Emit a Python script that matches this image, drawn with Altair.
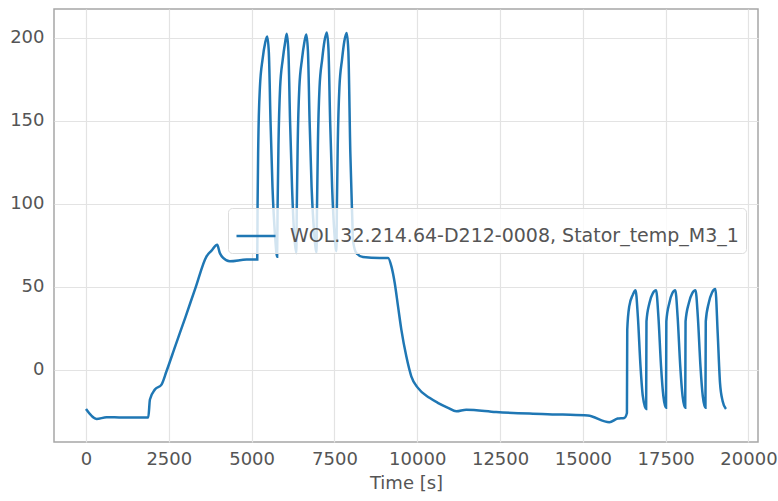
import altair as alt
import pandas as pd

series_name = "WOL.32.214.64-D212-0008, Stator_temp_M3_1"

time_s = [
    0, 320, 620, 1000, 1500, 1880, 1930, 2080, 2280, 2430, 2700, 3000, 3300, 3640, 3790, 3960,
    4040, 4140, 4340, 4850, 5170,
    5180, 5200, 5250, 5330, 5410, 5470, 5520, 5570, 5630, 5710, 5770,
    5785, 5810, 5860, 5940, 6010, 6060, 6110, 6160, 6220, 6290, 6350,
    6365, 6390, 6440, 6520, 6590, 6650, 6700, 6750, 6810, 6890, 6960,
    6975, 7000, 7050, 7130, 7200, 7270, 7320, 7370, 7430, 7500, 7560,
    7575, 7600, 7650, 7730, 7800, 7870, 7920, 7980, 8040, 8060, 8160, 8360,
    8870, 9120, 9220, 9320, 9420, 9520, 9670, 9820, 10020, 10370, 10620, 10930,
    11180, 11480, 12380, 13390, 14390, 15150, 15800, 16050, 16250, 16330,
    16340, 16400, 16510, 16590, 16660, 16740, 16810, 16910,
    16920, 17010, 17110, 17210, 17280, 17360, 17430, 17510,
    17520, 17610, 17700, 17790, 17860, 17940, 18010, 18090,
    18100, 18200, 18300, 18400, 18470, 18550, 18620, 18700,
    18710, 18800, 18900, 19000, 19070, 19140, 19220, 19320,
]

temp_c = [
    -23.7, -29.7, -28.7, -28.8, -28.9, -28.8, -18, -12, -9, -1, 14.5, 31.5, 49, 68.3, 71.7, 75.3,
    70.3, 67.3, 65.3, 66.3, 66.3,
    100, 135, 170, 187, 197, 200.8, 191, 150, 110, 80, 68,
    100, 135, 170, 187, 197, 202.4, 192, 150, 110, 80, 70.3,
    100, 135, 170, 187, 197, 202, 192, 150, 110, 82, 70.5,
    100, 135, 170, 187, 198, 203.2, 193, 150, 110, 82, 71.3,
    100, 135, 170, 187, 198, 202.8, 192, 130.5, 90, 78, 70.3, 67.9,
    67.3, 67.3, 62.2, 52.2, 38.1, 24.1, 8, -4, -11, -17, -20, -23,
    -25.1, -24.1, -25.5, -26.5, -27.1, -27.7, -31.7, -29.5, -29.1, -26.1,
    24.1, 38.1, 45.2, 47.8, 32, 2, -16, -23.7,
    29.1, 40.2, 46, 47.8, 32, 2, -16, -23,
    29.1, 40.2, 46, 47.8, 32, 2, -16, -23,
    29.1, 40.2, 46, 47.8, 32, 2, -16, -23,
    29.1, 40.2, 46.5, 48.6, 22, -8, -19, -23.7,
]

x_ticks = [0, 2500, 5000, 7500, 10000, 12500, 15000, 17500, 20000]
y_ticks = [0, 50, 100, 150, 200]

df = pd.DataFrame({"time": time_s, "value": temp_c, "series": series_name})

chart = (
    alt.Chart(df)
    .mark_line(strokeWidth=2.5, interpolate="monotone")
    .encode(
        x=alt.X(
            "time:Q",
            scale=alt.Scale(domain=[-966, 20287], nice=False, zero=False),
            axis=alt.Axis(values=x_ticks, title="Time [s]", format="d"),
        ),
        y=alt.Y(
            "value:Q",
            scale=alt.Scale(domain=[-43.6, 217.3], nice=False, zero=False),
            axis=alt.Axis(values=y_ticks, title=None, format="d"),
        ),
        color=alt.Color(
            "series:N",
            scale=alt.Scale(range=["#1f77b4"]),
            legend=alt.Legend(
                title=None,
                orient="none",
                legendX=174,
                legendY=199,
                symbolType="stroke",
                symbolSize=1521,
                symbolStrokeWidth=2.5,
                labelFont="DejaVu Sans",
                labelFontSize=19,
                labelColor="#555555",
                labelLimit=700,
                labelOffset=13,
                padding=7,
                fillColor="rgba(255,255,255,0.8)",
                strokeColor="#dddddd",
                cornerRadius=4,
            ),
        ),
    )
    .properties(
        width=704,
        height=433,
        autosize=alt.AutoSizeParams(type="none"),
        padding={"left": 54, "top": 9, "right": 20, "bottom": 59},
    )
    .configure_view(stroke="#a6a6a6", strokeWidth=1.5)
    .configure_axis(
        domain=False,
        ticks=False,
        grid=True,
        gridColor="#e3e3e3",
        gridWidth=1.2,
        labelFont="DejaVu Sans",
        labelFontSize=18,
        labelColor="#555555",
        titleFont="DejaVu Sans",
        titleFontSize=18,
        titleColor="#555555",
        titleFontWeight="normal",
    )
    .configure_axisX(labelPadding=8, titlePadding=6)
    .configure_axisY(labelPadding=10)
)

chart.save("out.html", embed_options={"renderer": "svg", "actions": False})
